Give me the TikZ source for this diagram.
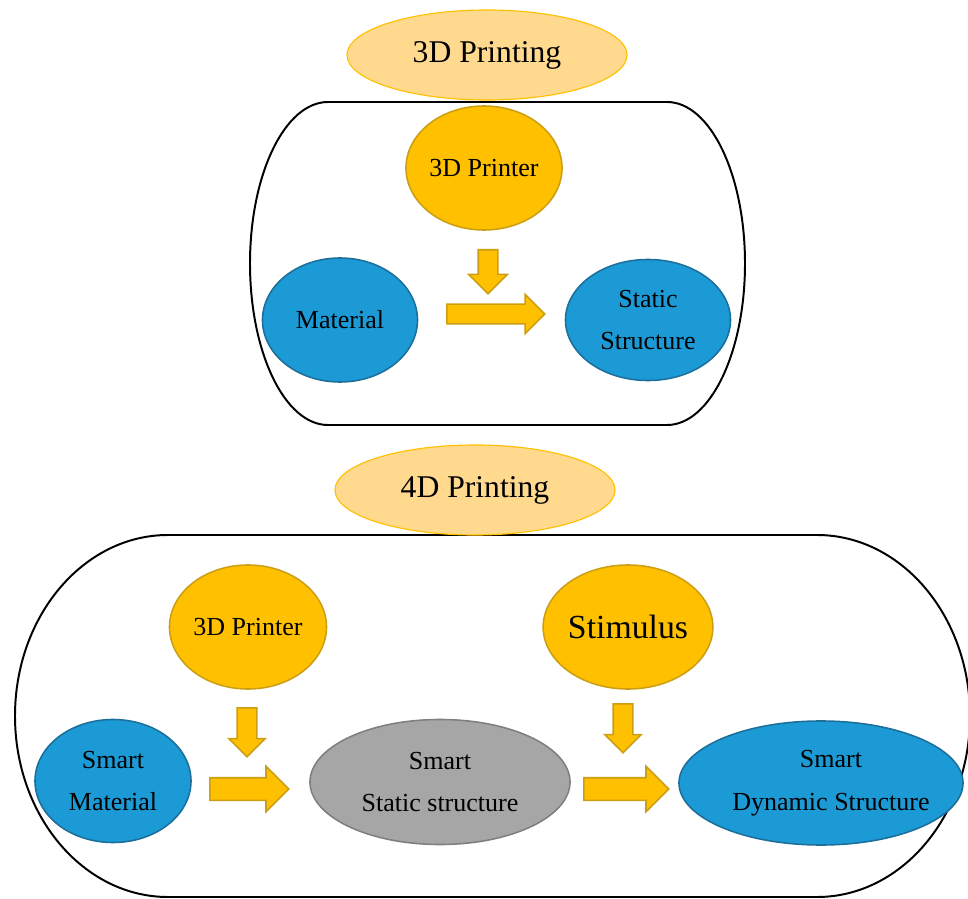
\documentclass[tikz,border=0pt]{standalone}
\usepackage{fontspec}
\setmainfont{Liberation Serif}
\usetikzlibrary{shapes.geometric,shapes.arrows}
\definecolor{gold}{HTML}{FFC000}
\definecolor{goldline}{HTML}{CC9E14}
\definecolor{titlefill}{HTML}{FFD98E}
\definecolor{bluefill}{HTML}{1C9AD6}
\definecolor{blueline}{HTML}{1B6F9A}
\definecolor{grayfill}{HTML}{A6A6A6}
\definecolor{grayline}{HTML}{7F7F7F}
\tikzset{
  ttl/.style={ellipse, draw=gold, fill=titlefill, line width=0.8pt, inner sep=0pt, minimum width=7cm, minimum height=2.25cm, font=\fontsize{22.5pt}{27pt}\selectfont},
  onode/.style={ellipse, draw=goldline, fill=gold, line width=1.1pt, inner sep=0pt, minimum width=3.9cm, minimum height=3.1cm, align=center, font=\fontsize{18.5pt}{30.5pt}\selectfont},
  bnode/.style={ellipse, draw=blueline, fill=bluefill, line width=1.1pt, inner sep=0pt, minimum width=3.9cm, minimum height=3.1cm, align=center, font=\fontsize{18.5pt}{30.5pt}\selectfont},
  gnode/.style={ellipse, draw=grayline, fill=grayfill, line width=1.1pt, inner sep=0pt, minimum width=6.5cm, minimum height=3.125cm, align=center, font=\fontsize{18.5pt}{30.5pt}\selectfont},
  barrow/.style={single arrow, draw=goldline, fill=gold, line width=1.1pt, inner xsep=0pt, inner ysep=0.225cm, minimum width=0pt, single arrow head extend=0.24cm, single arrow head indent=0pt, single arrow tip angle=90, anchor=tail},
  frame/.style={draw=black, line width=1.4pt},
}
\newcommand{\offln}[1]{\hspace*{0.5cm}\makebox[0pt]{#1}}
\begin{document}
\begin{tikzpicture}[x=0.025cm, y=-0.025cm]
  \useasboundingbox (0,0) rectangle (968,899);

  %% ============================================
  %% 3D PRINTING (top)
  %% ============================================
  \draw[frame] (328,102) -- (667,102)
    arc[start angle=-90, end angle=90, x radius=78, y radius=161.5] -- (328,425)
    arc[start angle=90, end angle=270, x radius=78, y radius=161.5] -- cycle;

  \node[ttl] (t3d) at (487,55) {3D Printing};

  \node[onode] (p3d) at (484,168) {3D Printer};
  \node[bnode, minimum width=3.875cm] (mat) at (340,320) {Material};
  \node[bnode, minimum width=4.125cm, minimum height=3.025cm] (sta) at (648,320) {Static\\Structure};

  % block arrows
  \node[barrow, minimum height=1.1cm, rotate=-90] (adn) at (488,249) {};
  \node[barrow, minimum height=2.45cm, single arrow head extend=0.25cm] (art) at (446,314) {};

  %% ============================================
  %% 4D PRINTING (bottom)
  %% ============================================
  \draw[frame] (168,535) -- (817,535)
    arc[start angle=-90, end angle=90, x radius=153, y radius=181] -- (168,897)
    arc[start angle=90, end angle=270, x radius=153, y radius=181] -- cycle;

  \node[ttl] (t4d) at (475,490) {4D Printing};

  \node[onode, minimum width=3.925cm] (p3db) at (248,627) {3D Printer};
  \node[onode, minimum width=3.925cm, font=\fontsize{24pt}{28pt}\selectfont] (stim) at (628,627) {Stimulus};

  \node[bnode, minimum height=3.075cm] (smat) at (113,781) {Smart\\Material};
  \node[gnode] (ssta) at (440,782) {Smart\\Static structure};
  \node[bnode, minimum width=7.1cm] (sdyn) at (821,783) {\offln{Smart}\\\offln{Dynamic Structure}};

  % block arrows
  \node[barrow, minimum height=1.225cm, single arrow head extend=0.21cm, rotate=-90] (adn1) at (247,707) {};
  \node[barrow, minimum height=1.975cm, inner ysep=0.2625cm, single arrow head extend=0.2875cm] (art1) at (209,789) {};
  \node[barrow, minimum height=1.225cm, single arrow head extend=0.21cm, rotate=-90] (adn2) at (623,703) {};
  \node[barrow, minimum height=2.125cm, inner ysep=0.2625cm, single arrow head extend=0.2875cm] (art2) at (583,789) {};
\end{tikzpicture}
\end{document}
